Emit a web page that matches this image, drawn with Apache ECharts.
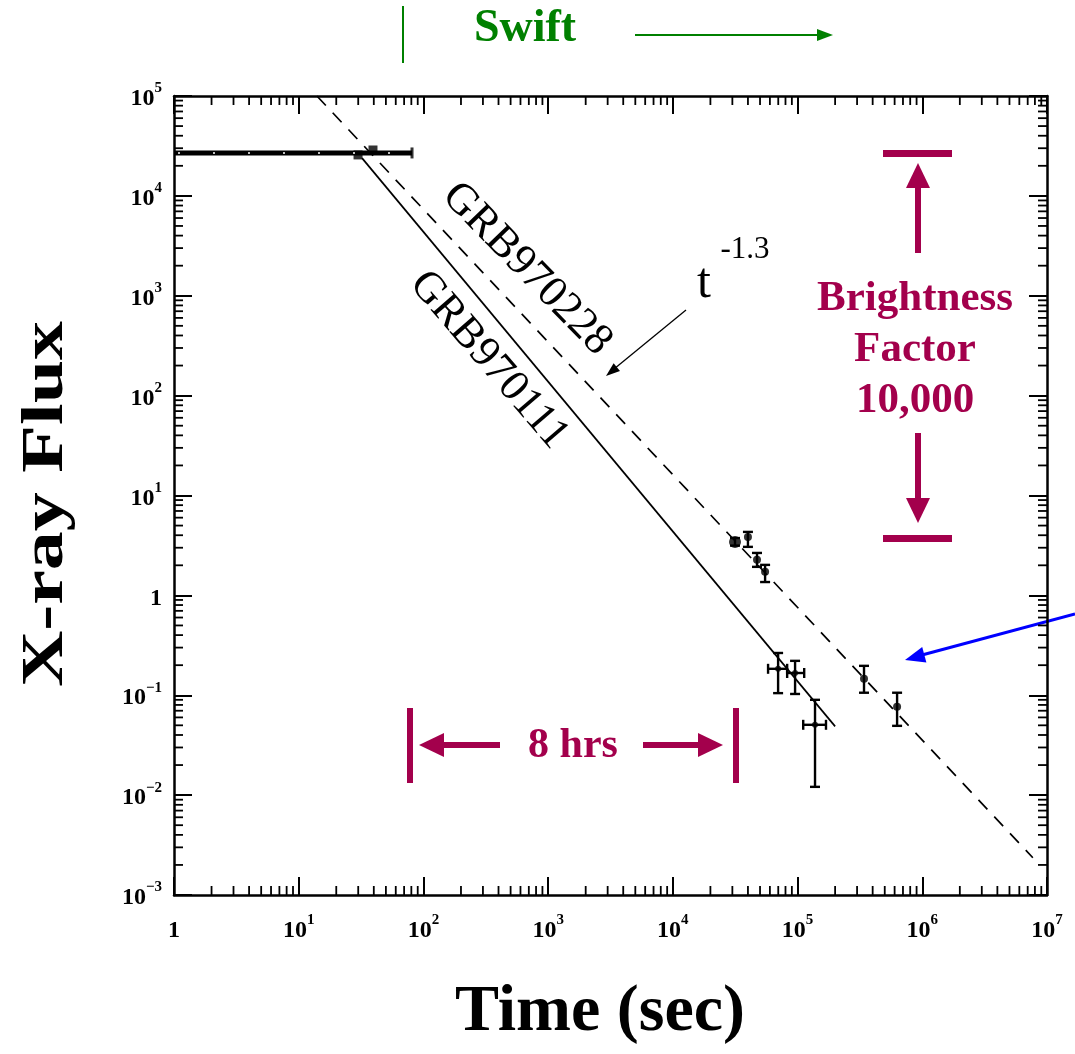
<!DOCTYPE html>
<html>
<head>
<meta charset="utf-8">
<script src="https://cdn.jsdelivr.net/npm/echarts@6/dist/echarts.min.js"></script>
<style>
  html, body { margin: 0; padding: 0; background: #fff; }
  #chart { width: 1075px; height: 1054px; }
</style>
</head>
<body>
<div id="chart"></div>
<script>
// ---- data (time in seconds, X-ray flux in arbitrary units) ----
const xTickValues = [1, 1e1, 1e2, 1e3, 1e4, 1e5, 1e6, 1e7];
const yTickValues = [1e-3, 1e-2, 1e-1, 1, 1e1, 1e2, 1e3, 1e4, 1e5];

// GRB970228 afterglow: [time, flux, flux low, flux high]
const grb970228 = [
  [3.15e4, 3.43, 3.15, 3.75],
  [4.0e4, 3.85, 3.06, 4.32],
  [4.73e4, 2.27, 1.93, 2.66],
  [5.49e4, 1.72, 1.36, 2.02],
  [3.41e5, 0.146, 0.106, 0.197],
  [6.28e5, 0.0766, 0.0494, 0.106]
];

// GRB970111 afterglow: [time, flux, flux low, flux high, time low, time high]
const grb970111 = [
  [6.98e4, 0.184, 0.105, 0.265, 5.8e4, 8.25e4],
  [9.55e4, 0.167, 0.103, 0.221, 8.25e4, 1.13e5],
  [1.38e5, 0.0506, 0.0121, 0.090, 1.11e5, 1.69e5]
];

// prompt emission
const promptPoints = [[29.9, 2.57e4], [39.4, 2.88e4]];
const promptLevel = [[1, 2.69e4], [81, 2.69e4]];

// power-law decays
const fit970111 = [[32.2, 2.39e4], [2.0e5, 0.0488]];
const fit970228 = [[14, 1.0e5], [7.7e6, 2.36e-3]];

// ---- helpers ----
const SERIF = '"Liberation Serif", "Times New Roman", serif';
const CRIMSON = '#a3004c';

function minorTicks(kFrom, kTo) {
  const out = [];
  for (let k = kFrom; k <= kTo; k++) {
    for (let m = 2; m <= 9; m++) out.push(+(m * Math.pow(10, k)).toPrecision(6));
  }
  return out;
}
const xMinor = minorTicks(0, 6).map(v => [v, 1e-3]);
const yMinor = minorTicks(-3, 4).map(v => [1, v]);

function powerLabel(v) {
  const e = Math.round(Math.log10(v));
  if (e === 0) return '{b|1}';
  return '{b|10}{s|' + (e < 0 ? '\u2212' + (-e) : e) + '}';
}
const labelRich = {
  b: { fontFamily: SERIF, fontWeight: 'bold', fontSize: 24, lineHeight: 30, verticalAlign: 'bottom', color: '#000' },
  s: { fontFamily: SERIF, fontWeight: 'bold', fontSize: 15, lineHeight: 15, verticalAlign: 'top', color: '#000' }
};

const frameLine = { lineStyle: { color: '#000', width: 2.5 } };
const majorTick = { inside: true, length: 18, lineStyle: { color: '#000', width: 2 } };

function minorXRender(params, api) {
  const v = api.value(0);
  const b = api.coord([v, 1e-3]);
  const t = api.coord([v, 1e5]);
  const st = { stroke: '#000', lineWidth: 1.8 };
  return { type: 'group', children: [
    { type: 'line', shape: { x1: b[0], y1: b[1], x2: b[0], y2: b[1] - 9 }, style: st },
    { type: 'line', shape: { x1: t[0], y1: t[1], x2: t[0], y2: t[1] + 9 }, style: st }
  ]};
}
function minorYRender(params, api) {
  const v = api.value(1);
  const l = api.coord([1, v]);
  const r = api.coord([1e7, v]);
  const st = { stroke: '#000', lineWidth: 1.8 };
  return { type: 'group', children: [
    { type: 'line', shape: { x1: l[0], y1: l[1], x2: l[0] + 9, y2: l[1] }, style: st },
    { type: 'line', shape: { x1: r[0], y1: r[1], x2: r[0] - 9, y2: r[1] }, style: st }
  ]};
}
function errorRender(params, api) {
  const t = api.value(0), lo = api.value(2), hi = api.value(3);
  const tlo = api.value(4), thi = api.value(5);
  const st = { stroke: '#000', lineWidth: 2.4 };
  const a = api.coord([t, lo]), b = api.coord([t, hi]);
  const c = 5;
  const kids = [
    { type: 'line', shape: { x1: a[0], y1: a[1], x2: b[0], y2: b[1] }, style: st },
    { type: 'line', shape: { x1: a[0] - c, y1: a[1], x2: a[0] + c, y2: a[1] }, style: st },
    { type: 'line', shape: { x1: b[0] - c, y1: b[1], x2: b[0] + c, y2: b[1] }, style: st }
  ];
  if (isFinite(tlo) && isFinite(thi) && tlo > 0) {
    const f = api.value(1);
    const p = api.coord([tlo, f]), q = api.coord([thi, f]);
    kids.push(
      { type: 'line', shape: { x1: p[0], y1: p[1], x2: q[0], y2: q[1] }, style: st },
      { type: 'line', shape: { x1: p[0], y1: p[1] - c, x2: p[0], y2: p[1] + c }, style: st },
      { type: 'line', shape: { x1: q[0], y1: q[1] - c, x2: q[0], y2: q[1] + c }, style: st }
    );
  }
  return { type: 'group', children: kids };
}

function arrowHead(tip, from, len, half, color) {
  const dx = tip[0] - from[0], dy = tip[1] - from[1];
  const d = Math.hypot(dx, dy);
  const ux = dx / d, uy = dy / d;
  const bx = tip[0] - ux * len, by = tip[1] - uy * len;
  return { type: 'polygon', shape: { points: [tip, [bx - uy * half, by + ux * half], [bx + uy * half, by - ux * half]] },
           style: { fill: color } };
}
function lineEl(x1, y1, x2, y2, color, w) {
  return { type: 'line', shape: { x1, y1, x2, y2 }, style: { stroke: color, lineWidth: w } };
}
function rectEl(x, y, w, h, color) {
  return { type: 'rect', shape: { x, y, width: w, height: h }, style: { fill: color } };
}
function textEl(text, x, y, font, color, extra) {
  return Object.assign({ type: 'text', x, y,
    style: { text, font, fill: color, align: 'center', verticalAlign: 'middle' } }, extra || {});
}

const chart = echarts.init(document.getElementById('chart'), null, { renderer: 'canvas' });

chart.setOption({
  animation: false,
  backgroundColor: '#fff',
  grid: { left: 174, top: 96, right: 28, bottom: 159, containLabel: false, outerBoundsMode: 'none' },
  xAxis: [
    { type: 'log', logBase: 10, min: 1, max: 1e7, position: 'bottom',
      axisLine: frameLine, axisTick: majorTick, splitLine: { show: false }, minorTick: { show: false },
      axisLabel: { formatter: powerLabel, rich: labelRich, margin: 18, showMinLabel: true, showMaxLabel: true } },
    { type: 'log', logBase: 10, min: 1, max: 1e7, position: 'top',
      axisLine: frameLine, axisTick: majorTick, splitLine: { show: false }, axisLabel: { show: false } }
  ],
  yAxis: [
    { type: 'log', logBase: 10, min: 1e-3, max: 1e5, position: 'left',
      axisLine: frameLine, axisTick: majorTick, splitLine: { show: false }, minorTick: { show: false },
      axisLabel: { formatter: powerLabel, rich: labelRich, margin: 12, showMinLabel: true, showMaxLabel: true } },
    { type: 'log', logBase: 10, min: 1e-3, max: 1e5, position: 'right',
      axisLine: frameLine, axisTick: majorTick, splitLine: { show: false }, axisLabel: { show: false } }
  ],
  series: [
    { type: 'custom', name: 'x minor ticks', data: xMinor, renderItem: minorXRender, clip: false, silent: true },
    { type: 'custom', name: 'y minor ticks', data: yMinor, renderItem: minorYRender, clip: false, silent: true },
    { type: 'line', name: 'GRB970228 decay', data: fit970228, symbol: 'none', clip: true,
      lineStyle: { color: '#000', width: 1.7, type: [13, 10] } },
    { type: 'line', name: 'GRB970111 decay', data: fit970111, symbol: 'none', clip: true,
      lineStyle: { color: '#000', width: 1.7 } },
    { type: 'line', name: 'prompt level', data: promptLevel, symbol: 'none',
      lineStyle: { color: '#000', width: 5 } },
    { type: 'line', name: 'prompt bins', data: promptLevel, symbol: 'none',
      lineStyle: { color: '#fff', width: 1.5, type: [2, 33], dashOffset: -4 } },
    { type: 'scatter', name: 'prompt end', data: [promptLevel[1]], symbol: 'rect', symbolSize: [3, 11],
      itemStyle: { color: '#000' } },
    { type: 'scatter', name: 'prompt', data: promptPoints, symbol: 'rect', symbolSize: 9,
      itemStyle: { color: '#000' } },
    { type: 'custom', name: 'GRB970228 errors', data: grb970228, renderItem: errorRender,
      encode: { x: 0, y: 1 } },
    { type: 'custom', name: 'GRB970111 errors', data: grb970111, renderItem: errorRender,
      encode: { x: 0, y: 1 } },
    { type: 'scatter', name: 'GRB970228', data: grb970228.map(r => [r[0], r[1]]),
      symbolSize: (v, p) => (p.dataIndex === 0 ? 12 : 8), itemStyle: { color: '#000' } },
    { type: 'scatter', name: 'GRB970111', data: grb970111.map(r => [r[0], r[1]]),
      symbolSize: 6, itemStyle: { color: '#000' } }
  ],
  graphic: [
    // Swift marker above the plot
    lineEl(403, 6, 403, 63, '#008000', 2),
    textEl('Swift', 525, 29, 'bold 46px ' + SERIF, '#008000'),
    lineEl(635, 35, 820, 35, '#008000', 2),
    arrowHead([833, 35], [635, 35], 16, 6, '#008000'),

    // axis titles
    textEl('X-ray Flux', 46, 504, 'bold 60px ' + SERIF, '#000', { rotation: Math.PI / 2, scaleX: 1.3 }),
    textEl('Time (sec)', 600, 1013, 'bold 66px ' + SERIF, '#000'),

    // curve labels
    textEl('GRB970228', 527, 269, '44px ' + SERIF, '#000', { rotation: -45.7 * Math.PI / 180 }),
    textEl('GRB970111', 489, 360, '44px ' + SERIF, '#000', { rotation: -49.3 * Math.PI / 180 }),

    // decay index note
    textEl('t', 704, 284, '50px ' + SERIF, '#000'),
    textEl('-1.3', 745, 250, '31px ' + SERIF, '#000'),
    lineEl(686, 310, 614, 369, '#000', 1.3),
    arrowHead([606, 376], [686, 310], 14, 5, '#000'),

    // brightness factor span
    rectEl(883, 150, 69, 7, CRIMSON),
    rectEl(915, 185, 6, 68, CRIMSON),
    { type: 'polygon', shape: { points: [[918, 163], [906, 188], [930, 188]] }, style: { fill: CRIMSON } },
    textEl('Brightness', 915, 299, 'bold 43px ' + SERIF, CRIMSON),
    textEl('Factor', 915, 350, 'bold 43px ' + SERIF, CRIMSON),
    textEl('10,000', 915, 401, 'bold 43px ' + SERIF, CRIMSON),
    rectEl(915, 433, 6, 68, CRIMSON),
    { type: 'polygon', shape: { points: [[918, 523], [906, 498], [930, 498]] }, style: { fill: CRIMSON } },
    rectEl(883, 535, 69, 7, CRIMSON),

    // 8 hour span
    rectEl(407, 708, 6, 75, CRIMSON),
    { type: 'polygon', shape: { points: [[419, 745], [444, 733], [444, 757]] }, style: { fill: CRIMSON } },
    rectEl(442, 742, 58, 6, CRIMSON),
    textEl('8 hrs', 573, 746, 'bold 42px ' + SERIF, CRIMSON),
    rectEl(643, 742, 58, 6, CRIMSON),
    { type: 'polygon', shape: { points: [[723, 745], [698, 733], [698, 757]] }, style: { fill: CRIMSON } },
    rectEl(733, 708, 6, 75, CRIMSON),

    // blue pointer
    lineEl(1075, 614, 922, 655, '#0000ff', 3),
    arrowHead([905, 660], [1075, 614], 20, 8, '#0000ff')
  ]
});
</script>
</body>
</html>
